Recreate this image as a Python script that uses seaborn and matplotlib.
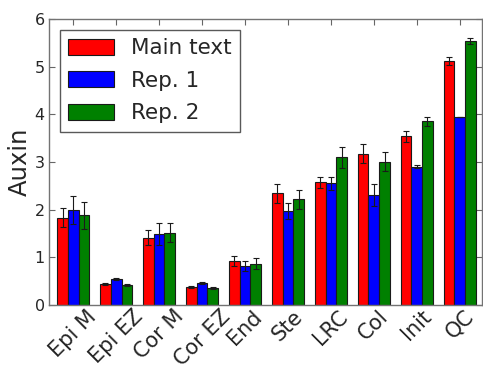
import matplotlib
matplotlib.use("Agg")
import matplotlib.pyplot as plt
import seaborn as sns
import pandas as pd
import numpy as np

tissues = ["Epi M", "Epi EZ", "Cor M", "Cor EZ", "End", "Ste", "LRC", "Col", "Init", "QC"]
series = ["Main text", "Rep. 1", "Rep. 2"]

main_text = [1.83, 0.44, 1.41, 0.37, 0.92, 2.34, 2.57, 3.17, 3.54, 5.12]
rep1 = [1.99, 0.55, 1.49, 0.46, 0.82, 1.97, 2.55, 2.31, 2.90, 3.95]
rep2 = [1.88, 0.42, 1.52, 0.35, 0.87, 2.22, 3.10, 3.01, 3.85, 5.54]

main_text_err = [0.20, 0.03, 0.16, 0.02, 0.11, 0.19, 0.12, 0.20, 0.12, 0.08]
rep1_err = [0.30, 0.02, 0.23, 0.02, 0.10, 0.17, 0.14, 0.23, 0.03, 0.0]
rep2_err = [0.28, 0.02, 0.20, 0.02, 0.12, 0.20, 0.22, 0.19, 0.10, 0.07]

colors = ["#ff0000", "#0000ff", "#008000"]

df = pd.DataFrame({
    "tissue": tissues * 3,
    "auxin": main_text + rep1 + rep2,
    "series": [s for s in series for _ in tissues],
})
errors = [main_text_err, rep1_err, rep2_err]

sns.set_style("ticks")
plt.rcParams["font.family"] = ["DejaVu Sans"]
plt.rcParams["xtick.direction"] = "in"
plt.rcParams["ytick.direction"] = "in"

fig = plt.figure(figsize=(4.83, 3.71), dpi=100)
ax = fig.add_axes([49 / 483, 1 - 305 / 371, 433 / 483, 286 / 371])

sns.barplot(data=df, x="tissue", y="auxin", hue="series", palette=colors,
            errorbar=None, width=0.75, edgecolor="0.1", linewidth=0.8,
            saturation=1, ax=ax)

for container, err in zip(ax.containers, errors):
    xs = [b.get_x() + b.get_width() / 2 for b in container]
    hs = [b.get_height() for b in container]
    ax.errorbar(xs, hs, yerr=err, fmt="none", ecolor="0.1", elinewidth=0.8,
                capsize=2.5, capthick=0.8)

ax.set_ylim(0, 6)
ax.set_xlim(-0.565, 9.52)
ax.set_yticks(range(7))
ax.set_xlabel("")
ax.set_ylabel("Auxin", fontsize=17.5, labelpad=2)
ax.tick_params(axis="y", labelsize=11.5, length=4, color="0.4",
               right=True, direction="in", pad=3)
ax.tick_params(axis="x", labelsize=15, length=4, color="0.4",
               top=True, direction="in", pad=1)
plt.setp(ax.get_xticklabels(), rotation=45, ha="center")
for sp in ax.spines.values():
    sp.set_visible(True)
    sp.set_color("0.45")
    sp.set_linewidth(1.0)

ax.get_legend().remove()
handles = [plt.Rectangle((0, 0), 1, 1, facecolor=c, edgecolor="0.1", linewidth=0.8)
           for c in colors]
leg = ax.legend(handles, series, loc="upper left", fontsize=15.5, frameon=True,
                fancybox=False, framealpha=1, edgecolor="0.35",
                handlelength=2.1, handleheight=0.75, handletextpad=0.8,
                labelspacing=0.58, borderpad=0.4, borderaxespad=0.5)
leg.get_frame().set_linewidth(1.0)

fig.savefig("out.png", dpi=100)
